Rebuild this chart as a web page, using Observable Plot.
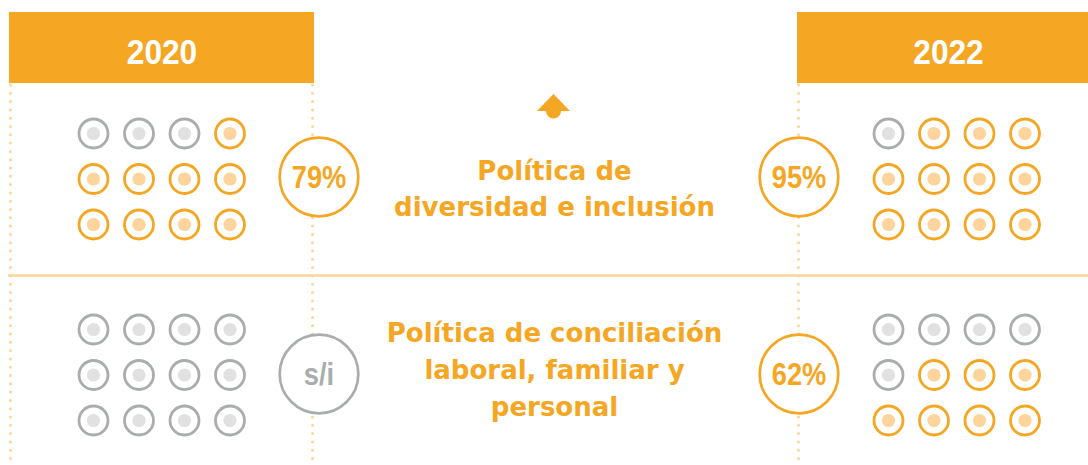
<!DOCTYPE html>
<html><head><meta charset="utf-8">
<script src="https://cdn.jsdelivr.net/npm/d3@7"></script>
<script src="https://cdn.jsdelivr.net/npm/@observablehq/plot@0.6"></script>
<style>html,body{margin:0;padding:0;background:#fff}svg{display:block}</style>
</head><body><div id="chart"></div>
<script>
// ---- data ----
const years = ["2020", "2022"];
const policies = ["Política de\ndiversidad e inclusión", "Política de conciliación\nlaboral, familiar y\npersonal"];
const labels2020 = ["79%", "s/i"];
const labels2022 = ["95%", "62%"];
const filledDots2020 = [9, 0];
const filledDots2022 = [11, 7];
const dotsPerPolicy = 12;

// ---- layout & style ----
const W = 1088, H = 465;
const ORANGE = "#F5A623", LIGHT = "#FDD49C", GRAY = "#AAADAD", LIGHTGRAY = "#E1E1E1", PALE = "#FCD59C";
const yearLayout = {
  "2020": {x1: 9, x2: 314, cx: 161.5, divider: 312, badgeX: 318.5, gridX: 93},
  "2022": {x1: 797, x2: W, cx: 948, divider: 798, badgeX: 798.5, gridX: 888}
};
const rowY = [178.5, 374.5];
const badgeY = [176.5, 373.5];
const textY = [185.7, 367];
const gridStep = 45.5;
const labels = {"2020": labels2020, "2022": labels2022};
const filled = {"2020": filledDots2020, "2022": filledDots2022};

const dots = [];
const badges = [];
years.forEach(yr => policies.forEach((p, pi) => {
  for (let i = 0; i < dotsPerPolicy; i++) {
    const col = i % 4, row = Math.floor(i / 4);
    dots.push({x: yearLayout[yr].gridX + col * gridStep, y: rowY[pi] + (row - 1) * gridStep,
               on: i >= dotsPerPolicy - filled[yr][pi]});
  }
  const lab = labels[yr][pi];
  badges.push({x: yearLayout[yr].badgeX, y: badgeY[pi], label: lab, known: lab !== "s/i"});
}));
const headers = years.map(yr => ({year: yr, ...yearLayout[yr]}));
const dividers = [{x: 10}, ...years.map(yr => ({x: yearLayout[yr].divider}))];
const policyRows = policies.map((p, i) => ({text: p, y: textY[i]}));

const arrowSymbol = {
  draw(ctx) {
    ctx.moveTo(-16.5, 0); ctx.lineTo(0, -17); ctx.lineTo(16.5, 0); ctx.closePath();
    ctx.moveTo(7.5, 0); ctx.arc(0, 0, 7.5, 0, Math.PI); ctx.closePath();
  }
};

const sans = "Liberation Sans, Arial, sans-serif";

const chart = Plot.plot({
  width: W, height: H, margin: 0,
  x: {domain: [0, W], range: [0, W], axis: null},
  y: {domain: [0, H], range: [0, H], axis: null},
  style: {background: "#fff"},
  marks: [
    Plot.ruleX(dividers, {x: "x", y1: 85, y2: H, stroke: PALE, strokeWidth: 3,
      strokeDasharray: "0 8.3", strokeLinecap: "round"}),
    Plot.ruleY([275], {x1: 8, x2: W, stroke: PALE, strokeWidth: 2.6}),
    Plot.rect(headers, {x1: "x1", x2: "x2", y1: 12, y2: 83, fill: ORANGE}),
    Plot.text(headers, {x: "cx", y: 52.4, text: "year", fill: "white", fontSize: 36,
      fontWeight: "bold", fontFamily: sans, className: "narrow"}),
    Plot.dot([{x: 553, y: 110.5}], {x: "x", y: "y", symbol: arrowSymbol, fill: ORANGE, stroke: "none"}),
    Plot.dot(dots, {x: "x", y: "y", r: 14.5, fill: "white", strokeWidth: 2.8,
      stroke: d => d.on ? ORANGE : GRAY}),
    Plot.dot(dots, {x: "x", y: "y", r: 6.6, fill: d => d.on ? LIGHT : LIGHTGRAY, stroke: "none"}),
    Plot.dot(badges, {x: "x", y: "y", r: 39.3, fill: "white", strokeWidth: 2.7,
      stroke: d => d.known ? ORANGE : GRAY}),
    Plot.text(badges, {x: "x", y: d => d.y + 1.2, text: "label", fontSize: 31, fontWeight: "bold",
      fontFamily: sans, fill: d => d.known ? ORANGE : GRAY, className: "narrow"}),
    Plot.text(policyRows, {x: 554, y: "y", text: "text", fontSize: 26, fontWeight: "bold",
      fontFamily: "DejaVu Sans, sans-serif", fill: ORANGE, lineHeight: 1.42})
  ]
});
// condense the header and badge lettering (the original uses a narrow face)
d3.select(chart).selectAll(".narrow text").attr("transform", function () {
  return (this.getAttribute("transform") || "") + " scale(0.88,1)";
});
document.getElementById("chart").appendChild(chart);
</script>
</body></html>
